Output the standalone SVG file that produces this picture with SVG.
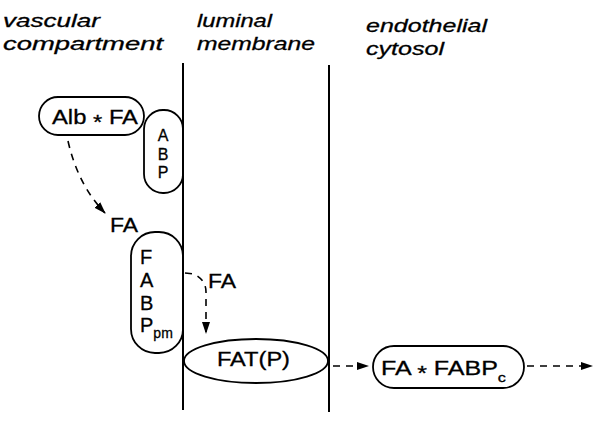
<svg xmlns="http://www.w3.org/2000/svg" width="600" height="424" viewBox="0 0 600 424">
<style>
.t{font-family:"Liberation Sans",Arial,sans-serif;font-style:italic;font-size:19px;fill:#000;stroke:#000;stroke-width:0.3}
.n{font-family:"Liberation Sans",Arial,sans-serif;font-size:20px;fill:#000;stroke:#000;stroke-width:0.3}
.s{fill:none;stroke:#000;stroke-width:1.8}
.m{stroke:#000;stroke-width:2}
.d{fill:none;stroke:#000;stroke-width:1.6;stroke-dasharray:7 6}
</style>
<defs>
<marker id="ah" markerWidth="12" markerHeight="10" refX="11" refY="5" orient="auto" markerUnits="userSpaceOnUse">
<path d="M0,1 L12,5 L0,9 Z" fill="#000"/>
</marker>
</defs>
<rect width="600" height="424" fill="#fff"/>
<g id="titles">
<text class="t" x="3" y="27" textLength="97" lengthAdjust="spacingAndGlyphs">vascular</text>
<text class="t" x="3" y="50" textLength="160" lengthAdjust="spacingAndGlyphs">compartment</text>
<text class="t" x="197" y="27" textLength="75" lengthAdjust="spacingAndGlyphs">luminal</text>
<text class="t" x="197" y="50" textLength="118" lengthAdjust="spacingAndGlyphs">membrane</text>
<text class="t" x="366" y="32" textLength="121" lengthAdjust="spacingAndGlyphs">endothelial</text>
<text class="t" x="366" y="55" textLength="78" lengthAdjust="spacingAndGlyphs">cytosol</text>
</g>
<g id="membranes">
<line class="m" x1="183" y1="63" x2="183" y2="410"/>
<line class="m" x1="329" y1="65" x2="329" y2="412"/>
</g>
<g id="alb-fa">
<rect class="s" x="39" y="97" width="105" height="38" rx="19" fill="#fff"/>
<text class="n" x="52" y="124" textLength="86" lengthAdjust="spacingAndGlyphs">Alb <tspan dy="5">*</tspan><tspan dy="-5"> FA</tspan></text>
</g>
<g id="abp">
<rect class="s" x="144" y="110" width="39" height="83" rx="19" fill="#fff"/>
<text class="n" text-anchor="middle" style="font-size:16px"><tspan x="163" y="141">A</tspan><tspan x="163" y="159.5">B</tspan><tspan x="163" y="178">P</tspan></text>
</g>
<g id="fa1">
<text class="n" x="110" y="232" textLength="28" lengthAdjust="spacingAndGlyphs">FA</text>
</g>
<g id="fabp-pm">
<rect class="s" x="131" y="232" width="52" height="121" rx="24" fill="#fff"/>
<text class="n" x="140" y="264">F</text>
<text class="n" x="140" y="287">A</text>
<text class="n" x="140" y="309.5">B</text>
<text class="n" x="140" y="332">P<tspan style="font-size:14px" dy="6">pm</tspan></text>
</g>
<g id="fa2">
<text class="n" x="208" y="288" textLength="28" lengthAdjust="spacingAndGlyphs">FA</text>
</g>
<g id="fat-p">
<ellipse class="s" cx="256" cy="361" rx="72" ry="22" fill="#fff"/>
<text class="n" x="217" y="366" textLength="73" lengthAdjust="spacingAndGlyphs">FAT(P)</text>
</g>
<g id="fa-fabp-c">
<rect class="s" x="373" y="346" width="151" height="42" rx="21" fill="#fff"/>
<text class="n" x="381" y="375" textLength="125" lengthAdjust="spacingAndGlyphs">FA <tspan dy="5">*</tspan><tspan dy="-5"> FABP</tspan><tspan style="font-size:13px" dy="7">c</tspan></text>
</g>
<g id="connectors">
<path class="d" d="M68,141 Q78,185 105,213" marker-end="url(#ah)"/>
<path class="d" d="M185,273 L194,274 Q206,280 206,292 L206,333" marker-end="url(#ah)"/>
<path class="d" d="M333,366 L368,366" marker-end="url(#ah)"/>
<path class="d" d="M527,366 L592,366" marker-end="url(#ah)"/>
</g>
</svg>
